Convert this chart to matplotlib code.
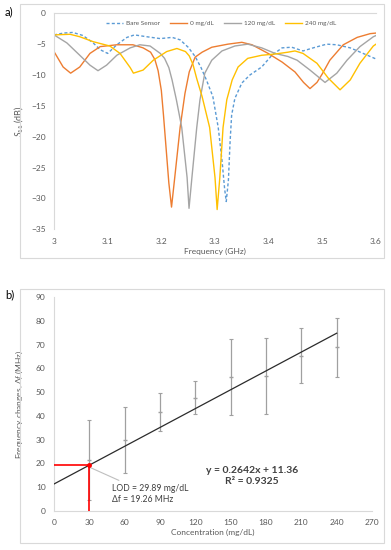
import matplotlib
matplotlib.use('Agg')
import matplotlib.pyplot as plt
import numpy as np
from matplotlib.patches import Rectangle

plt.rcParams['font.family'] = ['Lato', 'DejaVu Sans']
plt.rcParams['mathtext.fontset'] = 'custom'
plt.rcParams['mathtext.rm'] = 'Lato'
plt.rcParams['mathtext.it'] = 'Lato:italic'

# ---- panel a: S11 spectra ----
bare_f = [3.000, 3.018, 3.035, 3.054, 3.073, 3.086, 3.100, 3.117, 3.136, 3.150, 3.173, 3.198,
          3.220, 3.235, 3.250, 3.263, 3.274, 3.284, 3.296, 3.306, 3.313, 3.318, 3.321, 3.325,
          3.328, 3.331, 3.337, 3.350, 3.365, 3.387, 3.406, 3.425, 3.443, 3.464, 3.483, 3.508,
          3.527, 3.552, 3.576, 3.600]
bare_s = [-3.5, -3.2, -3.1, -3.6, -4.8, -5.9, -6.5, -5.1, -3.9, -3.5, -3.8, -4.1,
          -3.9, -4.3, -5.5, -7.0, -8.8, -10.8, -13.5, -18.5, -23.8, -28.5, -30.5, -27.0,
          -21.0, -16.5, -13.8, -11.3, -10.0, -8.7, -6.8, -5.6, -5.5, -6.1, -5.6, -5.0,
          -5.1, -5.6, -6.5, -7.4]

c0_f = [3.000, 3.017, 3.031, 3.048, 3.067, 3.086, 3.117, 3.147, 3.166, 3.180, 3.188, 3.194,
        3.200, 3.204, 3.209, 3.214, 3.219, 3.225, 3.235, 3.244, 3.252, 3.263, 3.276, 3.294,
        3.324, 3.350, 3.369, 3.399, 3.425, 3.449, 3.465, 3.477, 3.490, 3.500, 3.514, 3.539,
        3.565, 3.589, 3.600]
c0_s = [-6.2, -8.7, -9.7, -8.7, -6.5, -5.4, -5.1, -5.1, -5.6, -6.3, -7.5, -9.3,
        -12.5, -16.5, -22.0, -27.5, -31.4, -26.6, -18.5, -13.0, -9.5, -7.1, -6.3, -5.5,
        -5.0, -4.7, -5.1, -6.5, -7.9, -9.5, -11.2, -12.2, -11.2, -9.8, -7.6, -5.1,
        -3.9, -3.3, -3.2]

c120_f = [3.000, 3.024, 3.048, 3.067, 3.082, 3.098, 3.117, 3.142, 3.160, 3.179, 3.198, 3.206,
          3.214, 3.220, 3.228, 3.238, 3.248, 3.2516, 3.257, 3.266, 3.272, 3.281, 3.294, 3.313,
          3.337, 3.361, 3.387, 3.412, 3.436, 3.453, 3.477, 3.505, 3.527, 3.546, 3.570, 3.595,
          3.600]
c120_s = [-3.5, -4.8, -6.8, -8.4, -9.3, -8.4, -6.8, -5.6, -5.1, -5.3, -6.5, -7.3,
          -8.8, -10.8, -14.0, -18.5, -26.6, -31.6, -26.6, -18.5, -14.0, -9.7, -7.6, -6.1,
          -5.3, -5.0, -5.6, -6.5, -7.0, -7.6, -9.2, -11.2, -9.7, -7.6, -5.4, -3.8,
          -3.6]

c240_f = [3.000, 3.030, 3.048, 3.073, 3.104, 3.123, 3.142, 3.148, 3.166, 3.185, 3.210, 3.229,
          3.245, 3.252, 3.259, 3.266, 3.276, 3.290, 3.300, 3.304, 3.309, 3.315, 3.322, 3.332,
          3.343, 3.361, 3.387, 3.412, 3.436, 3.449, 3.464, 3.490, 3.511, 3.533, 3.552, 3.570,
          3.595, 3.600]
c240_s = [-3.5, -3.4, -3.8, -4.6, -5.3, -6.5, -8.8, -9.7, -9.2, -7.6, -6.2, -5.7,
          -6.2, -6.9, -8.3, -10.6, -13.5, -18.5, -26.6, -31.8, -26.6, -18.5, -14.0, -10.8,
          -8.7, -7.3, -6.8, -6.6, -6.3, -6.1, -6.5, -8.1, -10.5, -12.4, -10.8, -8.1,
          -5.3, -5.0]

freq_ticks = [3, 3.1, 3.2, 3.3, 3.4, 3.5, 3.6]
freq_labels = ['3', '3.1', '3.2', '3.3', '3.4', '3.5', '3.6']
s11_ticks = [0, -5, -10, -15, -20, -25, -30, -35]

# ---- panel b: calibration ----
conc = [30, 60, 90, 120, 150, 180, 210, 240]
shift_mean = [21.4, 29.8, 41.6, 47.6, 56.2, 56.7, 65.3, 68.8]
shift_err = [16.8, 13.8, 7.9, 7.0, 16.0, 16.0, 11.5, 12.3]
slope, intercept = 0.2642, 11.36
lod_x, lod_y = 29.89, 19.26
conc_ticks = [0, 30, 60, 90, 120, 150, 180, 210, 240, 270]
shift_ticks = [0, 10, 20, 30, 40, 50, 60, 70, 80, 90]

W, H = 391, 550
fig = plt.figure(figsize=(W / 100, H / 100), dpi=100)
grey_txt = '#595959'
edge = '#D9D9D9'

# chart-area frames
for top in (4, 289):
    fig.patches.append(Rectangle((20 / W, 1 - (top + 254) / H), 364 / W, 254 / H,
                                 transform=fig.transFigure, fill=False,
                                 edgecolor=edge, lw=0.8))

# ---------- a ----------
ax = fig.add_axes([54 / W, 1 - 229.3 / H, 322 / W, 216 / H])
ax.plot(bare_f, bare_s, color='#5B9BD5', lw=1.0, ls=(0, (2.2, 1.6)), label='Bare Sensor')
ax.plot(c0_f, c0_s, color='#ED7D31', lw=1.0, label='0 mg/dL')
ax.plot(c120_f, c120_s, color='#A5A5A5', lw=1.0, label='120 mg/dL')
ax.plot(c240_f, c240_s, color='#FFC000', lw=1.0, label='240 mg/dL')
ax.set_xlim(3, 3.6)
ax.set_ylim(-35, 0)
ax.set_xticks(freq_ticks)
ax.set_xticklabels(freq_labels)
ax.set_yticks(s11_ticks)
ax.tick_params(length=0, labelsize=6, colors=grey_txt, pad=6)
for s in ('bottom', 'right'):
    ax.spines[s].set_visible(False)
for s in ('top', 'left'):
    ax.spines[s].set_color(edge)
    ax.spines[s].set_linewidth(0.8)
ax.set_xlabel('Frequency (GHz)', fontsize=6, color=grey_txt, labelpad=2)
ax.set_ylabel(r'$\mathit{S}_{11}$ (dB)', fontsize=6.5, color=grey_txt, labelpad=4)
ax.legend(loc='center', bbox_to_anchor=(0.52, 0.955), ncol=4, frameon=False,
          fontsize=4.6, handlelength=2.6, columnspacing=1.6, handletextpad=0.5,
          labelcolor=grey_txt)
fig.text(5 / W, 1 - 12 / H, 'a)', fontsize=8, va='center', ha='left')

# ---------- b ----------
bx = fig.add_axes([54 / W, 1 - 511 / H, 318 / W, 214 / H])
bx.errorbar(conc, shift_mean, yerr=shift_err, fmt='_', color='#A0A0A0', ms=3,
            elinewidth=0.9, capsize=1.2, capthick=0.8, zorder=2)
fit_x = np.array([0, conc[-1]])
bx.plot(fit_x, slope * fit_x + intercept, color='#2b2b2b', lw=0.9, zorder=3)
bx.plot([0, lod_x], [lod_y, lod_y], color='#FF0000', lw=1.2, zorder=4)
bx.plot([lod_x, lod_x], [0, lod_y], color='#FF0000', lw=1.2, zorder=4)
bx.plot([lod_x], [lod_y], 'o', color='#FF0000', ms=2.5, zorder=5)
bx.annotate('LOD = 29.89 mg/dL\nΔf = 19.26 MHz', xy=(lod_x + 1, lod_y - 1),
            xytext=(49, 7), fontsize=6.2, color='#404040', va='center', ha='left',
            linespacing=1.3,
            arrowprops=dict(arrowstyle='-', color='#BFBFBF', lw=0.8,
                            shrinkA=2, shrinkB=0))
bx.text(168, 14.6, 'y = 0.2642x + 11.36\nR² = 0.9325', fontsize=7.5, color='#404040',
        ha='center', va='center', fontweight='bold', linespacing=1.3)
bx.set_xlim(0, 270)
bx.set_ylim(0, 90)
bx.set_xticks(conc_ticks)
bx.set_yticks(shift_ticks)
bx.tick_params(length=0, labelsize=6, colors=grey_txt, pad=6)
for s in ('top', 'right'):
    bx.spines[s].set_visible(False)
for s in ('bottom', 'left'):
    bx.spines[s].set_color(edge)
    bx.spines[s].set_linewidth(0.8)
bx.set_xlabel('Concentration (mg/dL)', fontsize=6, color=grey_txt, labelpad=2)
bx.set_ylabel(r'Frequency changes, Δ$\mathit{f}$ (MHz)', fontsize=6, color=grey_txt,
              labelpad=8)
fig.text(5 / W, 1 - 295 / H, 'b)', fontsize=8, va='center', ha='left')

fig.savefig('out.png', dpi=100)
